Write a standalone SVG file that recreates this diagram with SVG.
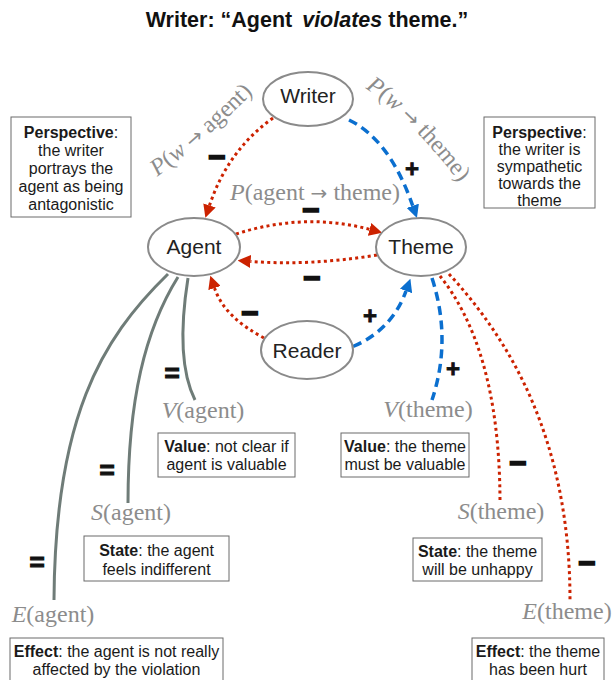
<svg xmlns="http://www.w3.org/2000/svg" width="613" height="680" viewBox="0 0 613 680">
  <style>
    .title { font-family: "Liberation Sans", Arial, sans-serif; font-size: 21.5px; font-weight: bold; fill: #111; }
    .node ellipse { fill: #fff; stroke: #8a8a8a; stroke-width: 2; }
    .node text { font-family: "Liberation Sans", Arial, sans-serif; font-size: 21px; fill: #222; text-anchor: middle; }
    .box rect { fill: #fff; stroke: #6a6a6a; stroke-width: 1; }
    .box text { font-family: "Liberation Sans", Arial, sans-serif; font-size: 16px; fill: #1a1a1a; text-anchor: middle; }
    .box .b { font-weight: bold; }
    .math { font-family: "Liberation Serif", "Times New Roman", serif; font-size: 24px; fill: #8c8c8c; }
    .math .s { font-style: italic; }
    .plabel { font-family: "Liberation Serif", "Times New Roman", serif; font-size: 24px; fill: #8c8c8c; }
    .arr { font-family: "DejaVu Sans", sans-serif; font-size: 20px; }
    .red { fill: none; stroke: #cc2200; stroke-width: 3; stroke-dasharray: 3 3.3; }
    .blue { fill: none; stroke: #0b6fcf; stroke-width: 3.5; stroke-dasharray: 9 5.5; }
    .gray { fill: none; stroke: #6f7c78; stroke-width: 3; }
    .sign { font-family: "Liberation Sans", Arial, sans-serif; font-weight: bold; fill: #111; stroke: #111; text-anchor: middle; }
    .minus { font-size: 30px; stroke-width: 1.6; }
    .plus { font-size: 24px; stroke-width: 0.8; }
    .eq { font-size: 26px; stroke-width: 1.2; }
  </style>
  <defs>
    <marker id="headRed" viewBox="0 0 13 13" refX="0" refY="6.5" markerWidth="13" markerHeight="13" markerUnits="userSpaceOnUse" orient="auto">
      <path d="M0,0 L13,6.5 L0,13 z" fill="#cc2200"/>
    </marker>
    <marker id="headBlue" viewBox="0 0 13 13" refX="0" refY="6.5" markerWidth="13" markerHeight="13" markerUnits="userSpaceOnUse" orient="auto">
      <path d="M0,0 L13,6.5 L0,13 z" fill="#0b6fcf"/>
    </marker>
    <path id="arcWA" d="M150,182 Q200,146 260,86"/>
    <path id="arcWT" d="M362,86 Q410,117 462,186"/>
  </defs>

  <rect width="613" height="680" fill="#fff"/>

  <!-- heading -->
  <text class="title" x="307" y="27" text-anchor="middle">Writer: “Agent <tspan dx="4" font-style="italic">violates</tspan> theme.”</text>

  <!-- connectors -->
  <g id="connectors">
    <!-- writer perspectives -->
    <path class="red" d="M273,118 Q228,150 209.5,205.5" marker-end="url(#headRed)"/>
    <path class="blue" d="M349,120 Q390,140 412.7,205.8" marker-end="url(#headBlue)"/>
    <!-- agent / theme -->
    <path class="red" d="M236,234 Q305,212 369.6,229.4" marker-end="url(#headRed)"/>
    <path class="red" d="M377,255 Q310,266 250.6,261.4" marker-end="url(#headRed)"/>
    <!-- reader perspectives -->
    <path class="red" d="M264,338 C240,325 222,310 214.5,288" marker-end="url(#headRed)"/>
    <path class="blue" d="M353,346.5 Q392,330 406,291" marker-end="url(#headBlue)"/>
    <!-- theme attributes -->
    <path class="blue" d="M432,278 Q452,340 432,400"/>
    <path class="red" d="M440,276 C475,320 500,390 500,503"/>
    <path class="red" d="M449,274 C510,340 570,440 570,600"/>
    <!-- agent attributes -->
    <path class="gray" d="M188,278 Q175,360 195,400"/>
    <path class="gray" d="M178,277 C145,330 128,400 128,503"/>
    <path class="gray" d="M168,274 C100,340 55,420 54,600"/>

    <!-- connector labels -->
    <text class="plabel"><textPath href="#arcWA" startOffset="50%" text-anchor="middle"><tspan font-style="italic">P</tspan>(<tspan font-style="italic">w</tspan> <tspan class="arr">→</tspan> agent)</textPath></text>
    <text class="plabel"><textPath href="#arcWT" startOffset="50%" text-anchor="middle"><tspan font-style="italic">P</tspan>(<tspan font-style="italic">w</tspan> <tspan class="arr">→</tspan> theme)</textPath></text>
    <text class="plabel" x="315" y="200" text-anchor="middle" font-size="23.5"><tspan font-style="italic">P</tspan>(agent <tspan class="arr">→</tspan> theme)</text>

    <text class="sign minus" x="217" y="167">−</text>
    <text class="sign plus" x="412" y="177">+</text>
    <text class="sign minus" x="311" y="220">−</text>
    <text class="sign minus" x="312" y="288">−</text>
    <text class="sign minus" x="250" y="323">−</text>
    <text class="sign plus" x="370" y="324">+</text>
    <text class="sign plus" x="453" y="377">+</text>
    <text class="sign minus" x="518" y="473">−</text>
    <text class="sign minus" x="587" y="573">−</text>
    <text class="sign eq" x="172" y="382">=</text>
    <text class="sign eq" x="107" y="479">=</text>
    <text class="sign eq" x="37" y="571">=</text>
  </g>

  <!-- actors -->
  <g id="node-writer" class="node">
    <ellipse cx="308" cy="99" rx="45" ry="27"/>
    <text x="308" y="103">Writer</text>
  </g>
  <g id="node-agent" class="node">
    <ellipse cx="194" cy="247" rx="46" ry="29"/>
    <text x="194" y="254">Agent</text>
  </g>
  <g id="node-theme" class="node">
    <ellipse cx="421" cy="247" rx="45" ry="29"/>
    <text x="421" y="254">Theme</text>
  </g>
  <g id="node-reader" class="node">
    <ellipse cx="307" cy="350" rx="46" ry="29"/>
    <text x="307" y="358">Reader</text>
  </g>

  <!-- attribute terms -->
  <g id="node-value-agent"><text class="math" x="203" y="418" text-anchor="middle"><tspan class="s">V</tspan>(agent)</text></g>
  <g id="node-state-agent"><text class="math" x="131" y="520" text-anchor="middle"><tspan class="s">S</tspan>(agent)</text></g>
  <g id="node-effect-agent"><text class="math" x="53" y="622" text-anchor="middle"><tspan class="s">E</tspan>(agent)</text></g>
  <g id="node-value-theme"><text class="math" x="428" y="417" text-anchor="middle"><tspan class="s">V</tspan>(theme)</text></g>
  <g id="node-state-theme"><text class="math" x="501" y="519" text-anchor="middle"><tspan class="s">S</tspan>(theme)</text></g>
  <g id="node-effect-theme"><text class="math" x="567" y="619" text-anchor="middle"><tspan class="s">E</tspan>(theme)</text></g>

  <!-- explanation boxes -->
  <g id="box-perspective-agent" class="box">
    <rect x="11" y="117" width="120" height="100"/>
    <text x="71" y="138"><tspan class="b">Perspective</tspan>:</text>
    <text x="71" y="156">the writer</text>
    <text x="71" y="174">portrays the</text>
    <text x="71" y="192">agent as being</text>
    <text x="71" y="210">antagonistic</text>
  </g>
  <g id="box-perspective-theme" class="box">
    <rect x="484" y="117" width="111" height="91"/>
    <text x="539.5" y="137.5"><tspan class="b">Perspective</tspan>:</text>
    <text x="539.5" y="154.5">the writer is</text>
    <text x="539.5" y="171.5">sympathetic</text>
    <text x="539.5" y="189">towards the</text>
    <text x="539.5" y="206">theme</text>
  </g>
  <g id="box-value-agent" class="box">
    <rect x="158" y="433" width="137" height="44"/>
    <text x="226.5" y="452"><tspan class="b">Value</tspan>: not clear if</text>
    <text x="226.5" y="470">agent is valuable</text>
  </g>
  <g id="box-value-theme" class="box">
    <rect x="341" y="433" width="128" height="44"/>
    <text x="405" y="452"><tspan class="b">Value</tspan>: the theme</text>
    <text x="405" y="470">must be valuable</text>
  </g>
  <g id="box-state-agent" class="box">
    <rect x="84" y="536" width="145" height="45"/>
    <text x="156.5" y="556"><tspan class="b">State</tspan>: the agent</text>
    <text x="156.5" y="575">feels indifferent</text>
  </g>
  <g id="box-state-theme" class="box">
    <rect x="413" y="538" width="129" height="43"/>
    <text x="477.5" y="557"><tspan class="b">State</tspan>: the theme</text>
    <text x="477.5" y="575">will be unhappy</text>
  </g>
  <g id="box-effect-agent" class="box">
    <rect x="10" y="638" width="213" height="50"/>
    <text x="116.5" y="657"><tspan class="b">Effect</tspan>: the agent is not really</text>
    <text x="116.5" y="675">affected by the violation</text>
  </g>
  <g id="box-effect-theme" class="box">
    <rect x="472" y="638" width="132" height="50"/>
    <text x="538" y="657"><tspan class="b">Effect</tspan>: the theme</text>
    <text x="538" y="675">has been hurt</text>
  </g>
</svg>
